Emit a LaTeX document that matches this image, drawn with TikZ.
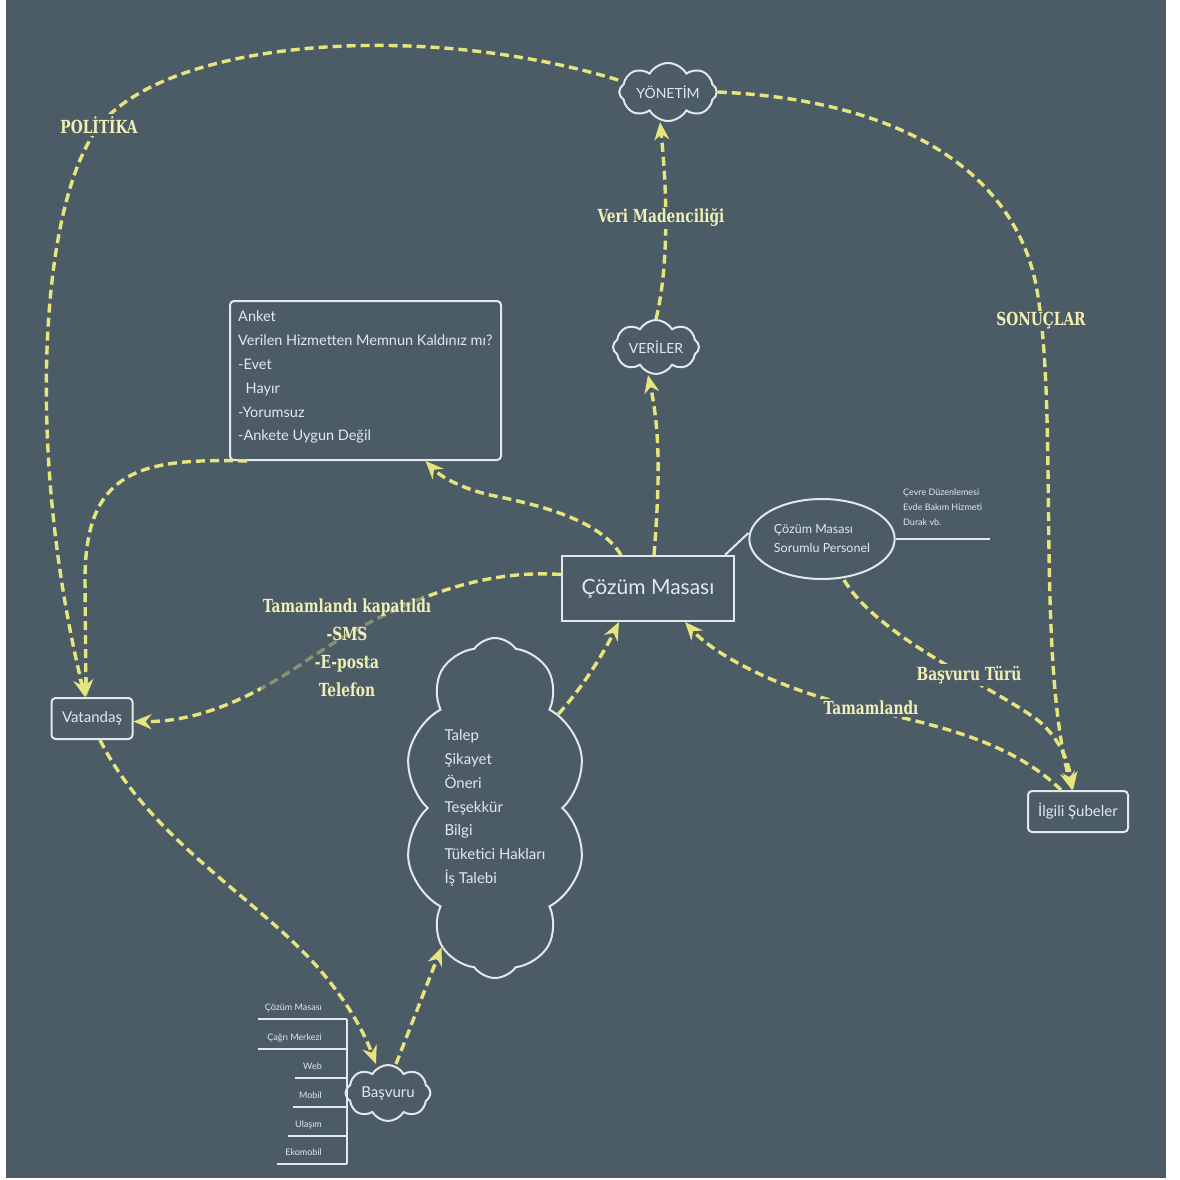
\documentclass[tikz,border=0pt]{standalone}
\usepackage{fontspec}
\setmainfont{Lato}
\newfontfamily\labfont{DejaVu Serif Condensed}[FakeStretch=0.85]
\usetikzlibrary{shapes.symbols,shapes.geometric,arrows.meta,calc}
\definecolor{bg}{HTML}{4C5C67}
\definecolor{flowc}{HTML}{E6E47C}
\definecolor{labc}{HTML}{F1EFB4}
\definecolor{ink}{HTML}{E4E8EA}
\tikzset{
  flow/.style={draw=flowc, line width=3.4pt, dash pattern=on 9pt off 5pt,
    -{Stealth[length=18pt,width=15pt,fill=flowc]}},
  lab/.style={font=\labfont\bfseries\fontsize{18}{20}\selectfont, text=labc, align=center,
    inner sep=2pt, fill=bg},
  boxn/.style={draw=ink, line width=2pt, rounded corners=4pt, text=ink},
  cloudn/.style={cloud, draw=ink, line width=2pt, text=ink, cloud ignores aspect},
  wtext/.style={text=ink, inner sep=0pt},
  wline/.style={draw=ink, line width=2pt},
}
\begin{document}
\begin{tikzpicture}[x=1pt, y=-1pt]
\useasboundingbox (0,0) rectangle (1179,1180);
\fill[white] (0,0) rectangle (1179,1180);
\fill[bg] (6,0) rectangle (1166,1178);

% --- nodes ---
\node[cloudn, cloud puffs=8, cloud puff arc=120, minimum width=96pt, minimum height=58pt,
  font=\fontsize{14}{16}\selectfont] (yon) at (668,92) {YÖNETİM};
\node[cloudn, cloud puffs=8, cloud puff arc=120, minimum width=86pt, minimum height=54pt,
  font=\fontsize{14}{16}\selectfont] (ver) at (656,347) {VERİLER};

\node[boxn, minimum width=271pt, minimum height=159pt, anchor=north west] (anket) at (229,300) {};
\node[wtext, anchor=north west, align=left, font=\fontsize{14.5}{23.8}\selectfont] (anketT) at (238,311)
  {Anket\\Verilen Hizmetten Memnun Kaldınız mı?\\-Evet\\\ \ Hayır\\-Yorumsuz\\-Ankete Uygun Değil};

\node[boxn, rounded corners=0pt, minimum width=172pt, minimum height=65pt,
  font=\fontsize{21}{24}\selectfont] (cm) at (648,588.5) {Çözüm Masası};

\node[ellipse, draw=ink, line width=2pt, minimum width=121pt, minimum height=80pt,
  text=ink, align=left, font=\fontsize{12.5}{19}\selectfont] (pers) at (822,539)
  {Çözüm Masası\\Sorumlu Personel};
\coordinate (persEnd) at (990,539);
\node[wtext, anchor=north west, align=left, font=\fontsize{9}{15}\selectfont] (hizmet) at (903,489)
  {Çevre Düzenlemesi\\Evde Bakım Hizmeti\\Durak vb.};

\node[boxn, minimum width=81pt, minimum height=41pt, font=\fontsize{15}{17}\selectfont] (vat) at (92,718.5) {Vatandaş};
\node[boxn, minimum width=100pt, minimum height=41pt, font=\fontsize{15}{17}\selectfont] (sube) at (1078,811.5) {İlgili Şubeler};

\node[cloudn, cloud puffs=10, cloud puff arc=110, minimum width=142pt, minimum height=340pt,
  align=left, font=\fontsize{15}{23.8}\selectfont] (talep) at (495,808)
  {Talep\\Şikayet\\Öneri\\Teşekkür\\Bilgi\\Tüketici Hakları\\İş Talebi};

\node[cloudn, cloud puffs=8, cloud puff arc=120, minimum width=80pt, minimum height=56pt,
  font=\fontsize{15}{17}\selectfont] (bas) at (388,1093) {Başvuru};

% --- application channels ---
\coordinate (chTop) at (347,1019);
\coordinate (chBot) at (347,1164);
\draw[wline] (chTop) -- (chBot);
\foreach \yy/\xl/\name in {1019/258/Çözüm Masası, 1049/258/Çağrı Merkezi, 1078/295/Web,
    1107/293/Mobil, 1136/288/Ulaşım, 1164/277/Ekomobil}{
  \draw[wline] (\xl,\yy) -- (347,\yy);
  \node[wtext, anchor=base east, font=\fontsize{9}{11}\selectfont] at (322,\yy-9) {\name};
}

% --- white links ---
\draw[wline] ([xshift=-10pt]cm.north east) -- (pers.west |- 0,533) ;
\draw[wline] (pers.east) -- (persEnd);

% --- flows ---
% politika
\draw[flow] ([yshift=12pt]yon.west) .. controls (420,20) and (170,40) .. (100,125)
  .. controls (40,200) and (25,450) .. ([xshift=-7pt]vat.north);
% sonuçlar
\draw[flow] (yon.east) .. controls (900,100) and (1010,170) .. (1035,280)
  .. controls (1060,400) and (1035,650) .. ([xshift=-6pt]sube.north);
% veri madenciliği
\draw[flow] (ver.north) .. controls (668,270) and (668,200) .. ([xshift=-8pt]yon.south);
% çözüm masası -> veriler
\draw[flow] ([xshift=93pt]cm.north west) .. controls (660,480) and (660,430) .. ([xshift=-8pt]ver.south);
% çözüm masası -> anket
\draw[flow] ([xshift=60pt]cm.north west) .. controls (600,520) and (540,505) .. (490,495)
  .. controls (460,488) and (440,476) .. ([xshift=60pt]anket.south);
% anket -> vatandaş
\draw[flow] ([xshift=18pt]anket.south west) .. controls (140,458) and (85,470) .. (85,580)
  -- ([xshift=-6pt]vat.north);
% çözüm masası -> vatandaş
\draw[flow] ([yshift=14pt]cm.west) .. controls (470,568) and (380,610) .. (300,665)
  .. controls (240,705) and (190,722) .. ([yshift=-3pt]vat.east);
% personel -> şubeler
\draw[flow] ([xshift=22pt]pers.south) .. controls (880,640) and (1000,690) .. (1040,722)
  .. controls (1060,740) and (1068,760) .. ([xshift=-5pt]sube.north);
% şubeler -> çözüm masası
\draw[flow] ([xshift=-17pt]sube.north) .. controls (1000,730) and (900,720) .. (830,700)
  .. controls (760,680) and (710,650) .. ([xshift=-50pt]cm.south east);
% talep -> çözüm masası
\draw[flow] (talep.56) .. controls (580,690) and (600,660) .. ([xshift=58pt]cm.south west);
% vatandaş -> başvuru
\draw[flow] ([xshift=8pt]vat.south) .. controls (150,840) and (260,900) .. (320,970)
  .. controls (350,1005) and (365,1035) .. ([xshift=-12pt]bas.north);
% başvuru -> talep
\draw[flow] ([xshift=8pt]bas.north) -- (talep.249);

% --- flow labels ---
\node[lab] (lPol) at (99,125) {POLİTİKA};
\node[lab] (lVm) at (661,218) {Veri Madenciliği};
\node[lab] (lSon) at (1041,321) {SONUÇLAR};
\node[lab] (lBt) at (969,675) {Başvuru Türü};
\node[lab] (lTam) at (871,708) {Tamamlandı};
\node[lab, font=\labfont\bfseries\fontsize{18}{28}\selectfont, fill opacity=0.6, text opacity=1] (lKap) at (347,648)
  {Tamamlandı kapatıldı\\-SMS\\-E-posta\\Telefon};
\end{tikzpicture}
\end{document}
